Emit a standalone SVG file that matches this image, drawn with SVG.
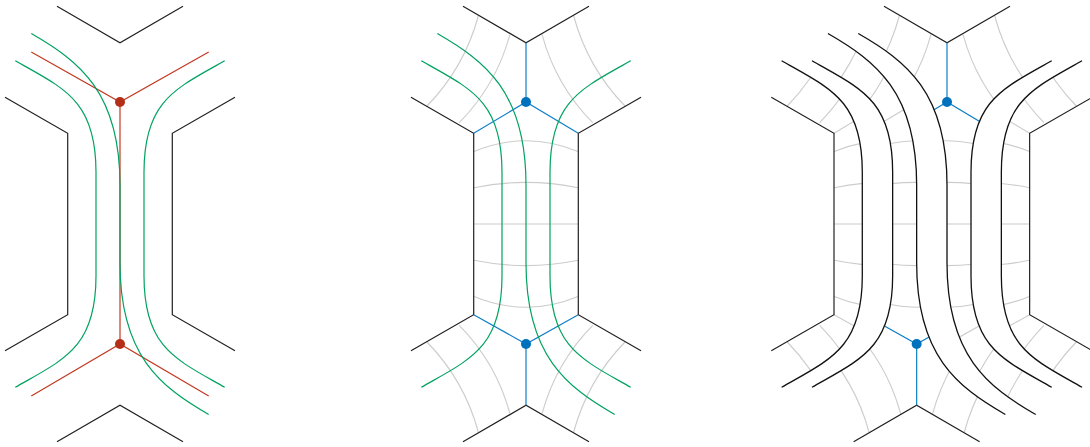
<svg xmlns="http://www.w3.org/2000/svg" width="1090" height="447" viewBox="0 0 1090 447">
<style>
.k{fill:none;stroke:#231f20;stroke-width:1.2}
.g{fill:none;stroke:#ccc;stroke-width:1.1}
.b{fill:none;stroke:#0f7fc6;stroke-width:1.2}
.r{fill:none;stroke:#c23a22;stroke-width:1.2}
.t{fill:none;stroke:#00a261;stroke-width:1.2}
.s{fill:none;stroke:#111;stroke-width:1.3}
.nr{fill:#b52e17}
.nb{fill:#0071bc}
</style>
<defs>
<path id="cL" d="M15.300 60.700C64 88.600 96 100 96 172L96 276C96 348 64 359.400 15.300 387.300"/>
<path id="cC" d="M31.300 33.500C79 61 120 92 120 185L120 263C120 356 161 387 208.700 414.500"/>
<path id="cR" d="M224.700 60.700C176 88.600 144 100 144 172L144 276C144 348 176 359.400 224.700 387.300"/>
<g id="walls">
<path d="M57 6.300L120 42.700L183 6.300"/>
<path d="M5 97.300L67.700 133.300L67.700 314.700L5 350.700"/>
<path d="M235 97.300L172.300 133.300L172.300 314.700L235 350.700"/>
<path d="M57 441.700L120 405.300L183 441.700"/>
</g>
<g id="grid">
<path d="M68 224L172 224"/>
<path d="M68 187.700Q120 177 172 187.700"/>
<path d="M68 151.500Q120 129.900 172 151.500"/>
<path d="M68 260.300Q120 271 172 260.300"/>
<path d="M68 296.500Q120 318.100 172 296.500"/>
<path d="M72.300 16Q58.300 67.700 21 106"/>
<path d="M104 34.300Q90.300 85 53.300 122.700"/>
<path d="M167.700 16Q181.700 67.700 219 106"/>
<path d="M136 34.300Q149.700 85 186.700 122.700"/>
<path d="M72.300 432Q58.300 380.300 21 342"/>
<path d="M104 413.700Q90.300 363 53.300 325.300"/>
<path d="M167.700 432Q181.700 380.300 219 342"/>
<path d="M136 413.700Q149.700 363 186.700 325.300"/>
</g>
<path id="topDiag" d="M67.700 133.300L120 102L172.300 133.300"/>
<path id="botDiag" d="M67.700 314.700L120 344L172.300 314.700"/>
<path id="topStem" d="M120 42.700L120 102"/>
<path id="botStem" d="M120 405.300L120 344"/>
<clipPath id="r1"><path d="M-60 17.500L15.300 60.700C64 88.600 96 100 96 172L96 276C96 348 64 359.400 15.300 387.300L-60 430.500Z"/></clipPath>
<clipPath id="r2"><path d="M-60 17.500L15.300 60.700C64 88.600 96 100 96 172L96 276C96 348 64 359.400 15.300 387.300L-60 430.500L-60 470L300 470L208.700 414.500C161 387 120 356 120 263L120 185C120 92 79 61 31.300 33.500L-60 -19Z"/></clipPath>
<clipPath id="r3"><path d="M-60 -19L31.300 33.500C79 61 120 92 120 185L120 263C120 356 161 387 208.700 414.500L300 470L320 448L224.700 387.300C176 359.400 144 348 144 276L144 172C144 100 176 88.600 224.700 60.700L320 6L320 -30L-60 -30Z"/></clipPath>
<clipPath id="r4"><path d="M330 0L224.700 60.700C176 88.600 144 100 144 172L144 276C144 348 176 359.400 224.700 387.300L330 448Z"/></clipPath>
</defs>

<g id="panel-1">
<use href="#walls" class="k"/>
<g id="connectors-1">
<path class="r" d="M31.300 52L120 102L208.700 52M120 102L120 344M31.300 396L120 344L208.700 396"/>
<use href="#cL" class="t"/><use href="#cC" class="t"/><use href="#cR" class="t"/>
</g>
<g id="node-1-top"><circle class="nr" cx="120" cy="102" r="5"/></g>
<g id="node-1-bottom"><circle class="nr" cx="120" cy="344" r="5"/></g>
</g>

<g id="panel-2" transform="translate(406 0)">
<use href="#grid" class="g"/>
<use href="#walls" class="k"/>
<g id="connectors-2">
<g class="b"><use href="#topDiag"/><use href="#botDiag"/><use href="#topStem"/><use href="#botStem"/></g>
<use href="#cL" class="t"/><use href="#cC" class="t"/><use href="#cR" class="t"/>
</g>
<g id="node-2-top"><circle class="nb" cx="120" cy="102" r="5"/></g>
<g id="node-2-bottom"><circle class="nb" cx="120" cy="344" r="5"/></g>
</g>

<g id="panel-3">
<g transform="translate(766.3 0)"><g clip-path="url(#r1)"><g class="g"><use href="#grid"/><use href="#topDiag"/><use href="#botDiag"/></g><use href="#walls" class="k"/></g><use href="#cL" class="s"/></g>
<g transform="translate(796.65 0)"><g clip-path="url(#r2)"><g class="g"><use href="#grid"/><use href="#topDiag"/></g><use href="#walls" class="k"/><g class="b"><use href="#botDiag"/><use href="#botStem"/></g></g><use href="#cL" class="s"/><use href="#cC" class="s"/></g>
<g transform="translate(827 0)"><g clip-path="url(#r3)"><g class="g"><use href="#grid"/><use href="#botDiag"/></g><use href="#walls" class="k"/><g class="b"><use href="#topDiag"/><use href="#topStem"/></g></g><use href="#cC" class="s"/><use href="#cR" class="s"/></g>
<g transform="translate(857.35 0)"><g clip-path="url(#r4)"><g class="g"><use href="#grid"/><use href="#topDiag"/><use href="#botDiag"/></g><use href="#walls" class="k"/></g><use href="#cR" class="s"/></g>
<g id="node-3-top"><circle class="nb" cx="947" cy="102" r="5"/></g>
<g id="node-3-bottom"><circle class="nb" cx="916.650" cy="344" r="5"/></g>
</g>
</svg>
